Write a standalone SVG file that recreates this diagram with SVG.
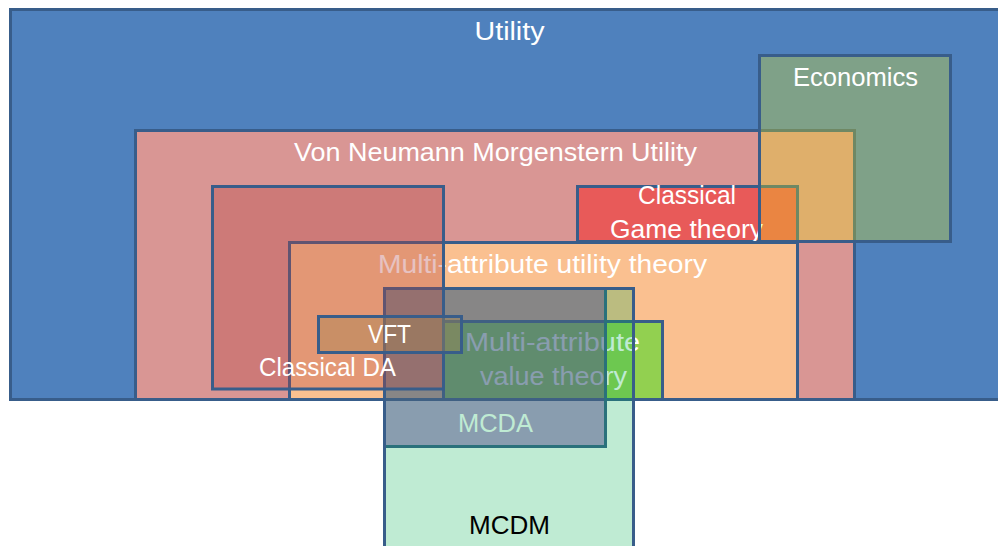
<svg xmlns="http://www.w3.org/2000/svg" width="998" height="546" viewBox="0 0 998 546">
  <style>
    .box { stroke: #385D8A; stroke-width: 3; }
    .lbl { font-family: "Liberation Sans", Arial, sans-serif; font-size: 25px; fill: #FFFFFF; text-anchor: middle; }
    .dark { fill: #000000; }
  </style>
  <rect x="0" y="0" width="998" height="546" fill="#FFFFFF"/>
  <g id="utility">
    <rect class="box" x="10.5" y="9.5" width="1000" height="390" fill="#4F81BD"/>
    <text class="lbl" x="509.5" y="40" textLength="70" lengthAdjust="spacingAndGlyphs">Utility</text>
  </g>
  <g id="vnm-utility">
    <rect class="box" x="135.5" y="130.5" width="719" height="269" fill="#D99694"/>
    <text class="lbl" x="495.5" y="161" textLength="403" lengthAdjust="spacingAndGlyphs">Von Neumann Morgenstern Utility</text>
  </g>
  <g id="classical-game-theory">
    <rect class="box" x="577.5" y="186.5" width="220" height="55" fill="#FF0000" fill-opacity="0.4"/>
    <text class="lbl" x="687" y="204" textLength="98" lengthAdjust="spacingAndGlyphs">Classical</text>
    <text class="lbl" x="686.5" y="238" textLength="153" lengthAdjust="spacingAndGlyphs">Game theory</text>
  </g>
  <g id="economics">
    <rect class="box" x="759.5" y="55.5" width="191" height="186" fill="#F0EA0C" fill-opacity="0.3"/>
    <text class="lbl" x="855.5" y="86" textLength="125" lengthAdjust="spacingAndGlyphs">Economics</text>
  </g>
  <g id="maut">
    <rect class="box" x="289.5" y="242.5" width="508" height="157" fill="#FAC090"/>
    <text class="lbl" x="542.5" y="273" textLength="329" lengthAdjust="spacingAndGlyphs">Multi-attribute utility theory</text>
  </g>
  <g id="mavt">
    <rect class="box" x="443.5" y="321.5" width="219" height="78" fill="#92D050"/>
    <text class="lbl" x="552.5" y="351" textLength="175" lengthAdjust="spacingAndGlyphs">Multi-attribute</text>
    <text class="lbl" x="553.5" y="385" textLength="147" lengthAdjust="spacingAndGlyphs">value theory</text>
  </g>
  <g id="mcda">
    <rect class="box" x="384.5" y="288.5" width="221" height="158" fill="#7030A0" fill-opacity="0.5"/>
    <text class="lbl" x="495.5" y="432" textLength="75" lengthAdjust="spacingAndGlyphs">MCDA</text>
  </g>
  <g id="mcdm">
    <rect class="box" x="384.5" y="288.5" width="249" height="300" fill="#00B050" fill-opacity="0.25"/>
    <text class="lbl dark" x="509.5" y="534" textLength="81" lengthAdjust="spacingAndGlyphs">MCDM</text>
  </g>
  <g id="classical-da">
    <rect class="box" x="212.5" y="186.5" width="231" height="202.5" fill="#B4423E" fill-opacity="0.32"/>
    <text class="lbl" x="327.5" y="376" textLength="137" lengthAdjust="spacingAndGlyphs">Classical DA</text>
  </g>
  <g id="vft">
    <rect class="box" x="318.5" y="316.5" width="143" height="36" fill="#A28450" fill-opacity="0.4"/>
    <text class="lbl" x="389.5" y="343" textLength="43" lengthAdjust="spacingAndGlyphs">VFT</text>
  </g>
</svg>
